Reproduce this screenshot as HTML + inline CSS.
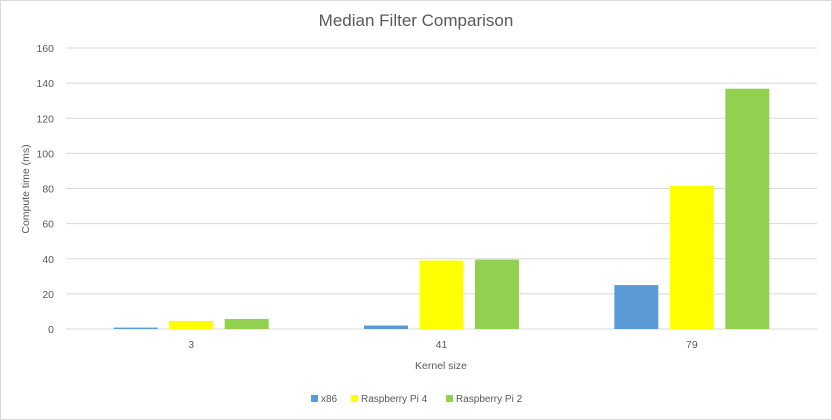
<!DOCTYPE html>
<html><head><meta charset="utf-8"><style>
body{margin:0;background:#fff;font-family:"Liberation Sans",sans-serif}
svg{display:block}
</style></head><body>
<svg id="c" width="832" height="420">
<rect x="0.5" y="0.5" width="831" height="419" fill="#fff" stroke="#d9d9d9"/>
<text x="416" y="26" text-anchor="middle" font-size="17" fill="#595959">Median Filter Comparison</text>
<text transform="translate(29,189) rotate(-90)" text-anchor="middle" font-size="10.5" fill="#595959">Compute time (ms)</text>
<text x="441" y="369" text-anchor="middle" font-size="10.5" fill="#595959">Kernel size</text>
<g id="grid"></g><g id="bars"></g><g id="legend"></g>
</svg>
<script>
const categories=["3","41","79"];
const seriesNames=["x86","Raspberry Pi 4","Raspberry Pi 2"];
const x86=[0.8,2,25];
const pi4=[4.6,39,81.5];
const pi2=[5.7,39.5,136.8];
const yTicks=[0,20,40,60,80,100,120,140,160];
const colors=["#5b9bd5","#ffff00","#92d050"];
const NS="http://www.w3.org/2000/svg";
const L=66,R=817,T=48,B=329,YMAX=160;
const y=v=>B-(v/YMAX)*(B-T);
const bw=(R-L)/categories.length;
const cx=i=>L+bw*(i+0.5);
function mk(t,a,p){const e=document.createElementNS(NS,t);for(const k in a)e.setAttribute(k,a[k]);p.appendChild(e);return e;}
const g=document.getElementById('grid');
yTicks.forEach(v=>{
 const l=mk('line',{x1:L,x2:R,y1:y(v),y2:y(v),stroke:'#d9d9d9','stroke-width':1},g);
 
 
 const t=mk('text',{x:54,y:y(v)+4,'text-anchor':'end','font-size':10.5,fill:'#595959'},g);
 t.textContent=v;
 
 
});
categories.forEach((c,i)=>{
 const t=mk('text',{x:cx(i),y:348,'text-anchor':'middle','font-size':10.5,fill:'#595959'},g);
 t.textContent=c;
 
 
});
const bg=document.getElementById('bars');
const series=[x86,pi4,pi2];
const W=44,STEP=55.5;
series.forEach((s,si)=>{
 s.forEach((v,i)=>{
  const x=cx(i)+(si-1)*STEP-W/2;
  const r=mk('rect',{x:x,y:y(v),width:W,height:B-y(v),fill:colors[si]},bg);
  
  
 });
});
const lg=document.getElementById('legend');
const lx=[311,351,446];
seriesNames.forEach((n,i)=>{
 const r=mk('rect',{x:lx[i],y:395,width:7,height:7,fill:colors[i]},lg);
 
 
 const t=mk('text',{x:lx[i]+10,y:402,'font-size':10,fill:'#595959'},lg);
 t.textContent=n;
 
 
});
</script>
</body></html>
